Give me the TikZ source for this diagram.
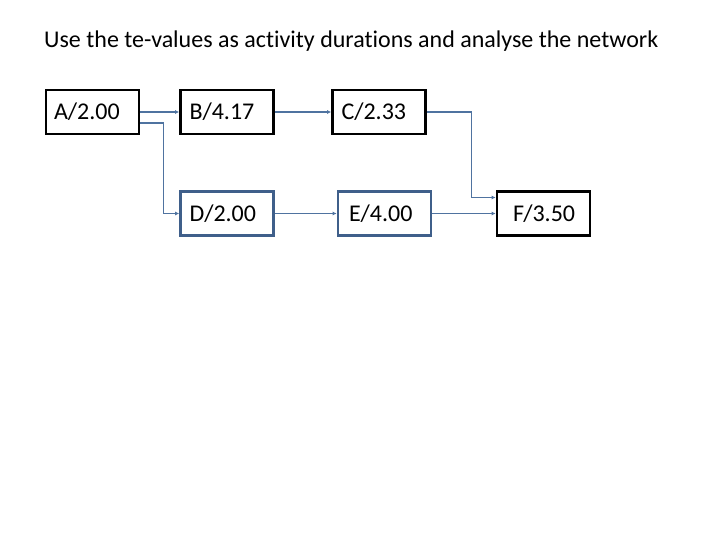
\documentclass[tikz,border=0pt]{standalone}
\usepackage{fontspec}
\setmainfont{Carlito}[Ligatures={NoCommon}]
\usetikzlibrary{arrows.meta}
\definecolor{boxblue}{HTML}{3F5F8A}
\definecolor{linkblue}{HTML}{4F73A0}
\begin{document}
\begin{tikzpicture}[x=1pt,y=-1pt,
  blk/.style={draw=black,line width=2.6pt,minimum height=44pt,inner ysep=0pt,inner xsep=#1,text width=93pt-2*#1,align=left,font=\fontsize{24}{28}\selectfont},
  blu/.style={blk=#1,draw=boxblue},
  link/.style={draw=linkblue,line width=1.2pt,-{Latex[length=4pt,width=4pt]}}]
\useasboundingbox (0,0) rectangle (720,540);
\node[anchor=base west,inner sep=0pt,font=\fontsize{24}{28}\selectfont] (title) at (44,48) {Use the te-values as activity durations and analyse the network};
\node[blk=8pt] (A) at (92.5,112) {A/2.00};
\node[blk=9pt] (B) at (227,112) {B/4.17};
\node[blk=9pt] (C) at (379,112) {C/2.33};
\node[blu=9pt] (D) at (227,213.5) {D/2.00};
\node[blu=11pt] (E) at (384.5,213.5) {E/4.00};
\node[blk=16pt] (F) at (543.5,213.5) {F/3.50};
\draw[link] (A.east) -- (B.west);
\draw[link] ([yshift=-11pt]A.east) -| ++(23,0) |- (D.west);
\draw[link] (B.east) -- (C.west);
\draw[link] (C.east) -| ++(45,0) |- ([yshift=16pt]F.west);
\draw[link] (D.east) -- (E.west);
\draw[link] (E.east) -- (F.west);
\end{tikzpicture}
\end{document}
